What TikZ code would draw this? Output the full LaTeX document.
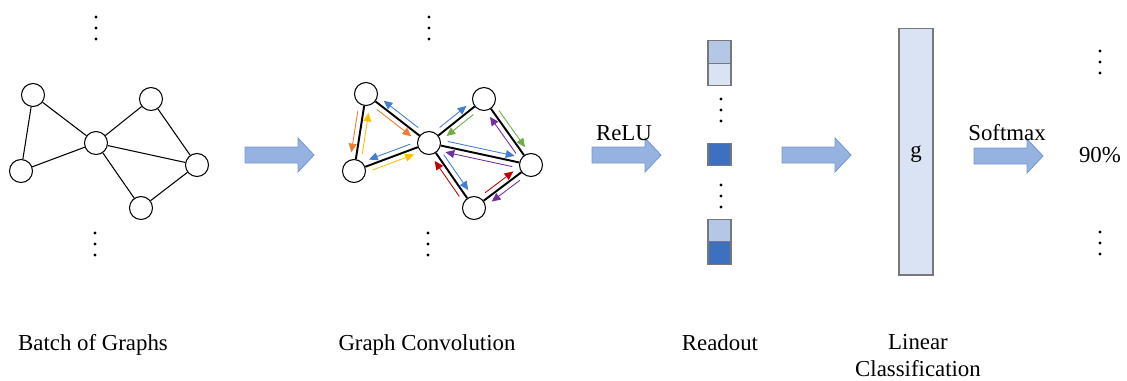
\documentclass[tikz,border=0pt]{standalone}
\usepackage{fontspec}
\setmainfont{Liberation Serif}
\usetikzlibrary{calc,arrows.meta}
\definecolor{cblue}{RGB}{68,126,210}
\definecolor{corange}{RGB}{237,125,49}
\definecolor{cyellow}{RGB}{255,192,0}
\definecolor{cgreen}{RGB}{112,173,71}
\definecolor{cpurple}{RGB}{112,48,160}
\definecolor{cred}{RGB}{192,0,0}
\definecolor{blkfill}{RGB}{150,178,224}
\definecolor{blkdraw}{RGB}{120,152,210}
\definecolor{rlight}{RGB}{180,199,231}
\definecolor{rpale}{RGB}{218,227,243}
\definecolor{rdark}{RGB}{62,112,192}
\definecolor{rborder}{RGB}{120,120,120}
\newcommand\garR[3]{\draw[garr,#1] ($(#2)!0.36cm!(#3)!0.11cm!-90:(#3)$) -- ($(#3)!0.36cm!(#2)!0.11cm!90:(#2)$);}
\newcommand\garL[3]{\draw[garr,#1] ($(#2)!0.36cm!(#3)!0.11cm!90:(#3)$) -- ($(#3)!0.36cm!(#2)!0.11cm!-90:(#2)$);}
\newcommand\blockarrow[3]{\draw[blk] (#1,#3-8) -- (#2-16,#3-8) -- (#2-16,#3-17) -- (#2,#3) -- (#2-16,#3+17) -- (#2-16,#3+8) -- (#1,#3+8) -- cycle;}
\newcommand\tdots[2]{\fill (#1,#2-11) circle (1.6) (#1,#2) circle (1.6) (#1,#2+11) circle (1.6);}
\tikzset{
  gnode/.style={circle,draw,fill=white,minimum size=0.46cm,inner sep=0pt,line width=0.6pt},
  gedge/.style={line width=0.6pt},
  cedge/.style={line width=1.1pt},
  garr/.style={line width=0.5pt,-{Triangle[length=5pt,width=4.5pt]}},
  blk/.style={fill=blkfill,draw=blkdraw,line width=0.5pt},
  rbox/.style={draw=rborder,line width=0.6pt,minimum width=0.46cm,minimum height=0.45cm,inner sep=0pt},
  lbl/.style={font=\fontsize{13}{15.6}\selectfont,anchor=base,inner sep=0pt},
}
\begin{document}
\begin{tikzpicture}[x=0.02cm,y=-0.02cm]
\useasboundingbox (0,0) rectangle (1127,380);
% graph 1
\node[gnode] (a1) at (33,95) {};
\node[gnode] (b1) at (21,171) {};
\node[gnode] (c1) at (96,143) {};
\node[gnode] (d1) at (151,99) {};
\node[gnode] (e1) at (197,165) {};
\node[gnode] (f1) at (141,208) {};
\draw[gedge] (a1)--(b1) (a1)--(c1) (b1)--(c1) (c1)--(d1) (c1)--(e1) (c1)--(f1) (d1)--(e1) (e1)--(f1);
\tdots{96}{28}
\tdots{95}{244}
% graph 2
\node[gnode] (a2) at (366,94) {};
\node[gnode] (b2) at (354,171) {};
\node[gnode] (c2) at (429,143) {};
\node[gnode] (d2) at (484,99) {};
\node[gnode] (e2) at (531,165) {};
\node[gnode] (f2) at (474,208) {};
\draw[cedge] (a2)--(b2) (a2)--(c2) (b2)--(c2) (c2)--(d2) (c2)--(e2) (c2)--(f2) (d2)--(e2) (e2)--(f2);
\garR{corange}{a2}{b2}
\garR{cyellow}{b2}{a2}
\garR{cblue}{c2}{a2}
\garR{corange}{a2}{c2}
\garR{cblue}{c2}{b2}
\garR{cyellow}{b2}{c2}
\garL{cblue}{c2}{d2}
\garL{cgreen}{d2}{c2}
\garL{cgreen}{d2}{e2}
\garL{cpurple}{e2}{d2}
\garL{cblue}{c2}{e2}
\garL{cpurple}{e2}{c2}
\garL{cred}{f2}{c2}
\garL{cblue}{c2}{f2}
\garL{cred}{f2}{e2}
\garL{cpurple}{e2}{f2}
\tdots{429}{28}
\tdots{428}{244}
% block arrows
\blockarrow{245}{314}{155}
\blockarrow{592}{661}{155}
\blockarrow{782}{851}{155}
\blockarrow{974}{1043}{156}
\node[lbl] (relu) at (624,140) {ReLU};
\node[lbl] (softmax) at (1007,140) {Softmax};
% readout
\node[rbox,fill=rlight] (r1) at (719.5,52) {};
\node[rbox,fill=rpale] (r2) at (719.5,74.5) {};
\tdots{721}{110}
\node[rbox,fill=rdark] (r3) at (719.5,154.5) {};
\tdots{721}{196}
\node[rbox,fill=rlight] (r4) at (719.5,230.5) {};
\node[rbox,fill=rdark] (r5) at (719.5,253) {};
% linear
\node[draw=rborder,fill=rpale,line width=0.6pt,minimum width=0.68cm,minimum height=4.94cm,inner sep=0pt] (g) at (916,151.5) {};
\node[lbl] (glbl) at (916,157) {g};
% output
\tdots{1100}{62}
\tdots{1100}{243}
\node[lbl] (pct) at (1100,162) {90\%};
% labels
\node[lbl] (l1) at (93,350) {Batch of Graphs};
\node[lbl] (l2) at (427,350) {Graph Convolution};
\node[lbl] (l3) at (720,350) {Readout};
\node[lbl] (l4) at (918,349) {Linear};
\node[lbl] (l5) at (918,376) {Classification};
\end{tikzpicture}
\end{document}
